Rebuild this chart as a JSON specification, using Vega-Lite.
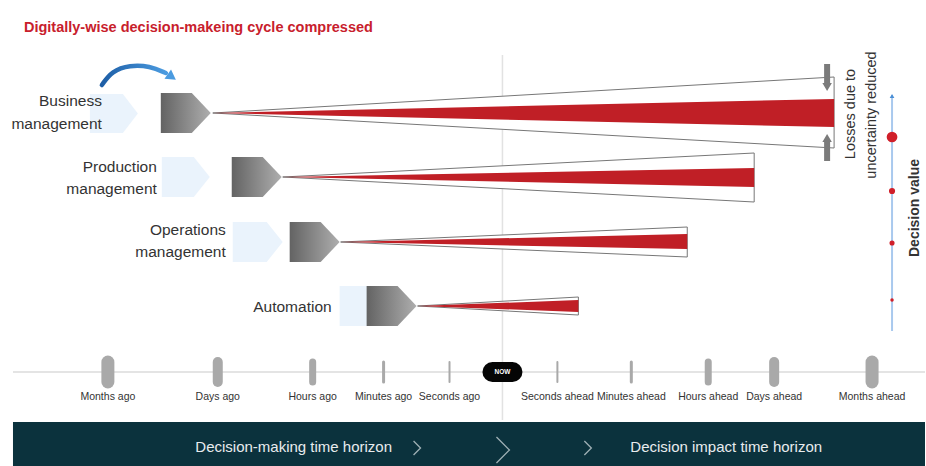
{
  "$schema": "https://vega.github.io/schema/vega-lite/v6.json",
  "width": 926,
  "height": 466,
  "autosize": {"type": "fit", "contains": "padding"},
  "padding": 0,
  "background": "white",
  "config": {"view": {"stroke": null}, "axis": {"grid": false}},
  "datasets": {
    "wedges": [
      {"row": "Business", "x": 213, "oTop": 113, "oBot": 113, "rTop": 113, "rBot": 113},
      {"row": "Business", "x": 835, "oTop": 77, "oBot": 148, "rTop": 99, "rBot": 127},
      {"row": "Production", "x": 283, "oTop": 177, "oBot": 177, "rTop": 177, "rBot": 177},
      {"row": "Production", "x": 755, "oTop": 153, "oBot": 202, "rTop": 168, "rBot": 187},
      {"row": "Operations", "x": 341, "oTop": 242, "oBot": 242, "rTop": 242, "rBot": 242},
      {"row": "Operations", "x": 688, "oTop": 227, "oBot": 257, "rTop": 234, "rBot": 249},
      {"row": "Automation", "x": 418, "oTop": 306, "oBot": 306, "rTop": 306, "rBot": 306},
      {"row": "Automation", "x": 579, "oTop": 297, "oBot": 315, "rTop": 300, "rBot": 312}
    ],
    "grayChev": [
      {"row": "Business", "x": 161, "top": 93, "bot": 133},
      {"row": "Business", "x": 192, "top": 93, "bot": 133},
      {"row": "Business", "x": 211, "top": 113, "bot": 113},
      {"row": "Production", "x": 232, "top": 157, "bot": 197},
      {"row": "Production", "x": 263, "top": 157, "bot": 197},
      {"row": "Production", "x": 282, "top": 177, "bot": 177},
      {"row": "Operations", "x": 290, "top": 222, "bot": 262},
      {"row": "Operations", "x": 321, "top": 222, "bot": 262},
      {"row": "Operations", "x": 340, "top": 242, "bot": 242},
      {"row": "Automation", "x": 367, "top": 286, "bot": 326},
      {"row": "Automation", "x": 398, "top": 286, "bot": 326},
      {"row": "Automation", "x": 417, "top": 306, "bot": 306}
    ],
    "lightChev": [
      {"row": "Business", "x": 90, "top": 94, "bot": 133},
      {"row": "Business", "x": 123, "top": 94, "bot": 133},
      {"row": "Business", "x": 138, "top": 113.5, "bot": 113.5},
      {"row": "Production", "x": 162, "top": 157, "bot": 197},
      {"row": "Production", "x": 194, "top": 157, "bot": 197},
      {"row": "Production", "x": 210, "top": 177, "bot": 177},
      {"row": "Operations", "x": 233, "top": 222, "bot": 262},
      {"row": "Operations", "x": 267, "top": 222, "bot": 262},
      {"row": "Operations", "x": 283, "top": 242, "bot": 242},
      {"row": "Automation", "x": 340, "top": 286, "bot": 326},
      {"row": "Automation", "x": 372, "top": 286, "bot": 326},
      {"row": "Automation", "x": 390, "top": 306, "bot": 306}
    ],
    "rowLabels": [
      {"text": "Business", "x": 102, "y": 101},
      {"text": "management", "x": 102, "y": 124},
      {"text": "Production", "x": 157, "y": 167},
      {"text": "management", "x": 157, "y": 189},
      {"text": "Operations", "x": 226, "y": 230},
      {"text": "management", "x": 226, "y": 252},
      {"text": "Automation", "x": 332, "y": 307}
    ],
    "ticks": [
      {"label": "Months ago", "x": 108, "mag": "Months"},
      {"label": "Days ago", "x": 218, "mag": "Days"},
      {"label": "Hours ago", "x": 313, "mag": "Hours"},
      {"label": "Minutes ago", "x": 384, "mag": "Minutes"},
      {"label": "Seconds ago", "x": 450, "mag": "Seconds"},
      {"label": "Seconds ahead", "x": 558, "mag": "Seconds"},
      {"label": "Minutes ahead", "x": 632, "mag": "Minutes"},
      {"label": "Hours ahead", "x": 709, "mag": "Hours"},
      {"label": "Days ahead", "x": 775, "mag": "Days"},
      {"label": "Months ahead", "x": 873, "mag": "Months"}
    ],
    "chevrons": [
      {"id": "a", "o": 1, "x": 414, "y": 441},
      {"id": "a", "o": 2, "x": 421, "y": 448},
      {"id": "a", "o": 3, "x": 414, "y": 455},
      {"id": "b", "o": 1, "x": 497, "y": 437},
      {"id": "b", "o": 2, "x": 510, "y": 450},
      {"id": "b", "o": 3, "x": 497, "y": 463},
      {"id": "c", "o": 1, "x": 585, "y": 441},
      {"id": "c", "o": 2, "x": 592, "y": 448},
      {"id": "c", "o": 3, "x": 585, "y": 455}
    ],
    "curve": [
      {"o": 1, "x": 102, "y": 85},
      {"o": 2, "x": 112, "y": 71},
      {"o": 3, "x": 130, "y": 65},
      {"o": 4, "x": 150, "y": 66},
      {"o": 5, "x": 166, "y": 73}
    ],
    "dots": [
      {"row": "Business", "y": 137, "value": 4},
      {"row": "Production", "y": 191, "value": 3},
      {"row": "Operations", "y": 243, "value": 2},
      {"row": "Automation", "y": 300, "value": 1}
    ]
  },
  "encoding": {
    "x": {"type": "quantitative", "scale": {"domain": [0, 926], "nice": false, "zero": false}, "axis": null},
    "y": {"type": "quantitative", "scale": {"domain": [0, 466], "nice": false, "zero": false, "reverse": true}, "axis": null}
  },
  "layer": [
    {
      "data": {"values": [{"x": 503, "y": 55, "y2": 420}]},
      "mark": {"type": "rule", "color": "#e2e2e2", "strokeWidth": 1.5},
      "encoding": {"x": {"field": "x", "type": "quantitative"}, "y": {"field": "y", "type": "quantitative"}, "y2": {"field": "y2"}}
    },
    {
      "data": {"values": [{"x": 13, "x2": 926, "y": 372}]},
      "mark": {"type": "rule", "color": "#e4e4e4", "strokeWidth": 2},
      "encoding": {"x": {"field": "x", "type": "quantitative"}, "x2": {"field": "x2"}, "y": {"field": "y", "type": "quantitative"}}
    },
    {
      "data": {"name": "lightChev"},
      "mark": {"type": "area", "color": "#eaf3fc", "interpolate": "linear"},
      "encoding": {"x": {"field": "x", "type": "quantitative"}, "y": {"field": "top", "type": "quantitative"}, "y2": {"field": "bot"}, "detail": {"field": "row"}}
    },
    {
      "data": {"name": "wedges"},
      "mark": {"type": "area", "fill": "white", "stroke": "#777777", "strokeWidth": 1, "interpolate": "linear"},
      "encoding": {"x": {"field": "x", "type": "quantitative"}, "y": {"field": "oTop", "type": "quantitative"}, "y2": {"field": "oBot"}, "detail": {"field": "row"}}
    },
    {
      "data": {"name": "wedges"},
      "mark": {"type": "area", "color": "#c01f26", "interpolate": "linear"},
      "encoding": {"x": {"field": "x", "type": "quantitative"}, "y": {"field": "rTop", "type": "quantitative"}, "y2": {"field": "rBot"}, "detail": {"field": "row"}}
    },
    {
      "data": {"name": "grayChev"},
      "mark": {"type": "area", "interpolate": "linear", "fill": {"gradient": "linear", "x1": 0, "y1": 0, "x2": 1, "y2": 0, "stops": [{"offset": 0, "color": "#636363"}, {"offset": 1, "color": "#aeaeae"}]}},
      "encoding": {"x": {"field": "x", "type": "quantitative"}, "y": {"field": "top", "type": "quantitative"}, "y2": {"field": "bot"}, "detail": {"field": "row"}}
    },
    {
      "data": {"name": "rowLabels"},
      "mark": {"type": "text", "align": "right", "baseline": "middle", "font": "Liberation Sans", "fontSize": 15.5, "color": "#333333"},
      "encoding": {"x": {"field": "x", "type": "quantitative"}, "y": {"field": "y", "type": "quantitative"}, "text": {"field": "text"}}
    },
    {
      "data": {"values": [{"text": "Digitally-wise decision-makeing cycle compressed", "x": 24, "y": 28}]},
      "mark": {"type": "text", "align": "left", "baseline": "middle", "font": "Liberation Sans", "fontSize": 14.5, "fontWeight": "bold", "color": "#c8202c"},
      "encoding": {"x": {"field": "x", "type": "quantitative"}, "y": {"field": "y", "type": "quantitative"}, "text": {"field": "text"}}
    },
    {
      "data": {"name": "curve"},
      "mark": {"type": "line", "interpolate": "basis", "strokeWidth": 4.5, "strokeCap": "round", "stroke": {"gradient": "linear", "x1": 0, "y1": 0, "x2": 1, "y2": 0, "stops": [{"offset": 0, "color": "#1d5ea6"}, {"offset": 1, "color": "#4b9be0"}]}},
      "encoding": {"x": {"field": "x", "type": "quantitative"}, "y": {"field": "y", "type": "quantitative"}, "order": {"field": "o"}}
    },
    {
      "data": {"values": [{"x": 172, "y": 77}]},
      "mark": {"type": "point", "shape": "triangle-right", "filled": true, "opacity": 1, "size": 130, "angle": 35, "color": "#4b9be0"},
      "encoding": {"x": {"field": "x", "type": "quantitative"}, "y": {"field": "y", "type": "quantitative"}}
    },
    {
      "data": {"name": "ticks"},
      "mark": {"type": "rule", "strokeCap": "round", "color": "#a9a9a9"},
      "encoding": {
        "x": {"field": "x", "type": "quantitative"},
        "y": {"datum": 362},
        "y2": {"datum": 382},
        "strokeWidth": {"field": "mag", "type": "ordinal", "scale": {"type": "ordinal", "domain": ["Seconds", "Minutes", "Hours", "Days", "Months"], "range": [2, 3, 7, 10, 13]}, "legend": null}
      }
    },
    {
      "data": {"name": "ticks"},
      "mark": {"type": "text", "align": "center", "baseline": "middle", "font": "Liberation Sans", "fontSize": 10.5, "color": "#333333"},
      "encoding": {"x": {"field": "x", "type": "quantitative"}, "y": {"datum": 397}, "text": {"field": "label"}}
    },
    {
      "data": {"values": [{"x": 493, "x2": 513, "y": 372}]},
      "mark": {"type": "rule", "strokeCap": "round", "strokeWidth": 20, "color": "#050505"},
      "encoding": {"x": {"field": "x", "type": "quantitative"}, "x2": {"field": "x2"}, "y": {"field": "y", "type": "quantitative"}}
    },
    {
      "data": {"values": [{"text": "NOW", "x": 503, "y": 372}]},
      "mark": {"type": "text", "align": "center", "baseline": "middle", "font": "Liberation Sans", "fontSize": 6.5, "fontWeight": "bold", "color": "white"},
      "encoding": {"x": {"field": "x", "type": "quantitative"}, "y": {"field": "y", "type": "quantitative"}, "text": {"field": "text"}}
    },
    {
      "data": {"values": [{"x": 13, "x2": 926, "y": 422, "y2": 466}]},
      "mark": {"type": "rect", "color": "#0b323d"},
      "encoding": {"x": {"field": "x", "type": "quantitative"}, "x2": {"field": "x2"}, "y": {"field": "y", "type": "quantitative"}, "y2": {"field": "y2"}}
    },
    {
      "data": {"name": "chevrons"},
      "mark": {"type": "line", "color": "#9fb0b5", "strokeWidth": 1.3},
      "encoding": {"x": {"field": "x", "type": "quantitative"}, "y": {"field": "y", "type": "quantitative"}, "detail": {"field": "id"}, "order": {"field": "o"}}
    },
    {
      "data": {"values": [{"text": "Decision-making time horizon", "x": 294, "y": 447}, {"text": "Decision impact time horizon", "x": 727, "y": 447}]},
      "mark": {"type": "text", "align": "center", "baseline": "middle", "font": "Liberation Sans", "fontSize": 15, "color": "#e8ecee"},
      "encoding": {"x": {"field": "x", "type": "quantitative"}, "y": {"field": "y", "type": "quantitative"}, "text": {"field": "text"}}
    },
    {
      "data": {"values": [{"x": 828, "y": 64, "y2": 84}, {"x": 828, "y": 141, "y2": 161}]},
      "mark": {"type": "rule", "color": "#7b7b7b", "strokeWidth": 6},
      "encoding": {"x": {"field": "x", "type": "quantitative"}, "y": {"field": "y", "type": "quantitative"}, "y2": {"field": "y2"}}
    },
    {
      "data": {"values": [{"x": 828, "y": 87, "dir": "down"}, {"x": 828, "y": 138, "dir": "up"}]},
      "mark": {"type": "point", "filled": true, "opacity": 1, "size": 90, "color": "#7b7b7b"},
      "encoding": {"x": {"field": "x", "type": "quantitative"}, "y": {"field": "y", "type": "quantitative"}, "shape": {"field": "dir", "type": "nominal", "scale": {"domain": ["down", "up"], "range": ["triangle-down", "triangle-up"]}, "legend": null}}
    },
    {
      "data": {"values": [{"text": "Losses due to", "x": 852, "y": 114}, {"text": "uncertainty reduced", "x": 873, "y": 115}]},
      "mark": {"type": "text", "align": "center", "baseline": "middle", "angle": 270, "font": "Liberation Sans", "fontSize": 14.5, "color": "#333333"},
      "encoding": {"x": {"field": "x", "type": "quantitative"}, "y": {"field": "y", "type": "quantitative"}, "text": {"field": "text"}}
    },
    {
      "data": {"values": [{"x": 893, "y": 95, "y2": 331}]},
      "mark": {"type": "rule", "color": "#a9c9ee", "strokeWidth": 2},
      "encoding": {"x": {"field": "x", "type": "quantitative"}, "y": {"field": "y", "type": "quantitative"}, "y2": {"field": "y2"}}
    },
    {
      "data": {"values": [{"x": 893, "y": 96}]},
      "mark": {"type": "point", "shape": "triangle-up", "filled": true, "opacity": 1, "size": 22, "color": "#4a8fd6"},
      "encoding": {"x": {"field": "x", "type": "quantitative"}, "y": {"field": "y", "type": "quantitative"}}
    },
    {
      "data": {"name": "dots"},
      "mark": {"type": "circle", "opacity": 1, "color": "#d01f2a"},
      "encoding": {"x": {"datum": 893}, "y": {"field": "y", "type": "quantitative"}, "size": {"field": "value", "type": "ordinal", "scale": {"type": "ordinal", "domain": [1, 2, 3, 4], "range": [12, 26, 38, 115]}, "legend": null}}
    },
    {
      "data": {"values": [{"text": "Decision value", "x": 916, "y": 208}]},
      "mark": {"type": "text", "align": "center", "baseline": "middle", "angle": 270, "font": "Liberation Sans", "fontSize": 14, "fontWeight": "bold", "color": "#333333"},
      "encoding": {"x": {"field": "x", "type": "quantitative"}, "y": {"field": "y", "type": "quantitative"}, "text": {"field": "text"}}
    }
  ]
}
